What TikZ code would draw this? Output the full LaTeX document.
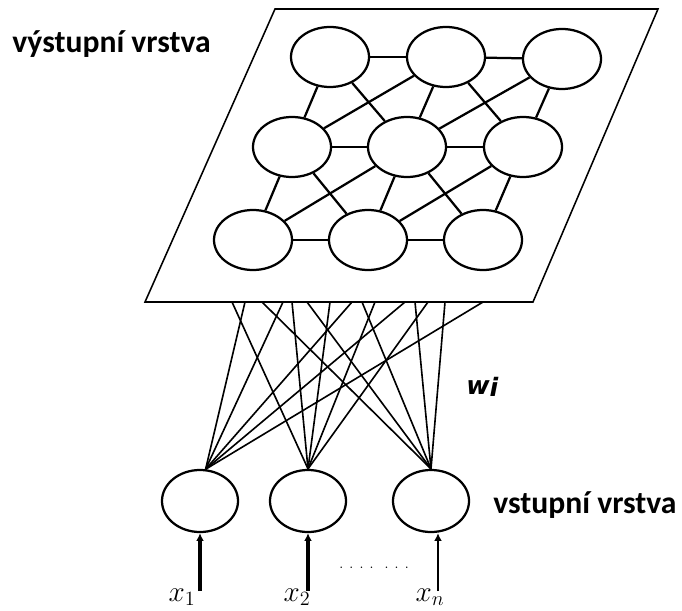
\documentclass[tikz,border=0pt]{standalone}
\usepackage{fontspec}
\usepackage{amsmath}
\usepackage{tikz}
\usetikzlibrary{shapes.geometric,arrows.meta}
\newfontfamily\layerfont{Carlito}
\newfontfamily\weightfont{DejaVu Sans}

\begin{document}
\begin{tikzpicture}[x=0.025cm, y=-0.025cm,
    neuron/.style={ellipse, draw, line width=1.6pt, minimum width=1.95cm, minimum height=1.5cm, inner sep=0pt},
    innode/.style={ellipse, draw, line width=1.6pt, minimum width=1.9cm, minimum height=1.55cm, inner sep=0pt},
    link/.style={line width=1.6pt},
    weight/.style={line width=1.15pt},
    feed/.style={line width=2.4pt, -{Latex[length=5.5pt,width=5.5pt]}},
    layer/.style={inner sep=0pt, anchor=base west, font=\layerfont\bfseries\fontsize{22.5}{26}\selectfont}]
    \useasboundingbox (0,0) rectangle (682,610);

    % Kohonenova mapa
    \draw[line width=1.1pt] (275,9) -- (658,9) -- (533,302) -- (145,302) -- cycle;

    \node[neuron] (O1) at (330,57) {};
    \node[neuron] (O2) at (446,57) {};
    \node[neuron] (O3) at (562,59) {};
    \node[neuron] (O4) at (292,147) {};
    \node[neuron] (O5) at (407,147) {};
    \node[neuron] (O6) at (523,147) {};
    \node[neuron] (O7) at (253,240) {};
    \node[neuron] (O8) at (368,240) {};
    \node[neuron] (O9) at (483,240) {};

    \draw[link] (O1) -- (O2);
    \draw[link] (O2) -- (O3);
    \draw[link] (O4) -- (O5);
    \draw[link] (O5) -- (O6);
    \draw[link] (O7) -- (O8);
    \draw[link] (O8) -- (O9);
    \draw[link] (O1) -- (O4);
    \draw[link] (O2) -- (O5);
    \draw[link] (O3) -- (O6);
    \draw[link] (O4) -- (O7);
    \draw[link] (O5) -- (O8);
    \draw[link] (O6) -- (O9);
    \draw[link] (O1) -- (O5);
    \draw[link] (O2) -- (O4);
    \draw[link] (O2) -- (O6);
    \draw[link] (O3) -- (O5);
    \draw[link] (O4) -- (O8);
    \draw[link] (O5) -- (O7);
    \draw[link] (O5) -- (O9);
    \draw[link] (O6) -- (O8);

    % vstupy
    \node[innode] (I1) at (200,501) {};
    \node[innode] (I2) at (308,501) {};
    \node[innode] (I3) at (431,501) {};

    % konce vah na spodni hrane mapy
    \coordinate (E1) at (232,302);
    \coordinate (E2) at (245,302);
    \coordinate (E3) at (262,302);
    \coordinate (E4) at (283,302);
    \coordinate (E5) at (292,302);
    \coordinate (E6) at (307,302);
    \coordinate (E7) at (330,302);
    \coordinate (E8) at (352,302);
    \coordinate (E9) at (362,302);
    \coordinate (E10) at (375,302);
    \coordinate (E11) at (405,302);
    \coordinate (E12) at (415,302);
    \coordinate (E13) at (428,302);
    \coordinate (E14) at (445,302);
    \coordinate (E15) at (483,302);

    \draw[weight] (I1.80) -- (E2);
    \draw[weight] (I1.80) -- (E4);
    \draw[weight] (I1.80) -- (E8);
    \draw[weight] (I1.80) -- (E11);
    \draw[weight] (I1.80) -- (E15);
    \draw[weight] (I2.north) -- (E1);
    \draw[weight] (I2.north) -- (E5);
    \draw[weight] (I2.north) -- (E7);
    \draw[weight] (I2.north) -- (E10);
    \draw[weight] (I2.north) -- (E13);
    \draw[weight] (I3.north) -- (E3);
    \draw[weight] (I3.north) -- (E6);
    \draw[weight] (I3.north) -- (E9);
    \draw[weight] (I3.north) -- (E12);
    \draw[weight] (I3.north) -- (E14);

    \node[inner sep=0pt, anchor=base west, font=\weightfont\bfseries\itshape\fontsize{18}{20}\selectfont] (W) at (466,394) {w\raisebox{-2pt}{i}};

    % vstupni signaly
    \coordinate (A1) at (200,591);
    \coordinate (A2) at (308,591);
    \coordinate (A3) at (438,591);
    \draw[feed] (A1) -- (I1);
    \draw[feed] (A2) -- (I2);
    \draw[feed, line width=1.1pt] (A3) -- (A3 |- I3.south);

    \node[inner sep=0pt, anchor=base, font=\fontsize{20}{22}\selectfont] (X1) at (182,601) {$x_1$};
    \node[inner sep=0pt, anchor=base, font=\fontsize{20}{22}\selectfont] (X2) at (297,601) {$x_2$};
    \node[inner sep=0pt, anchor=base, font=\fontsize{20}{22}\selectfont] (Xn) at (430,601) {$x_n$};
    \node[inner sep=0pt, font=\fontsize{10}{10}\selectfont] (D) at (374,568) {. . . . \ . . .};

    \node[layer] (Lout) at (12,53) {výstupní vrstva};
    \node[layer] (Lin) at (493,513) {vstupní vrstva};
\end{tikzpicture}
\end{document}
